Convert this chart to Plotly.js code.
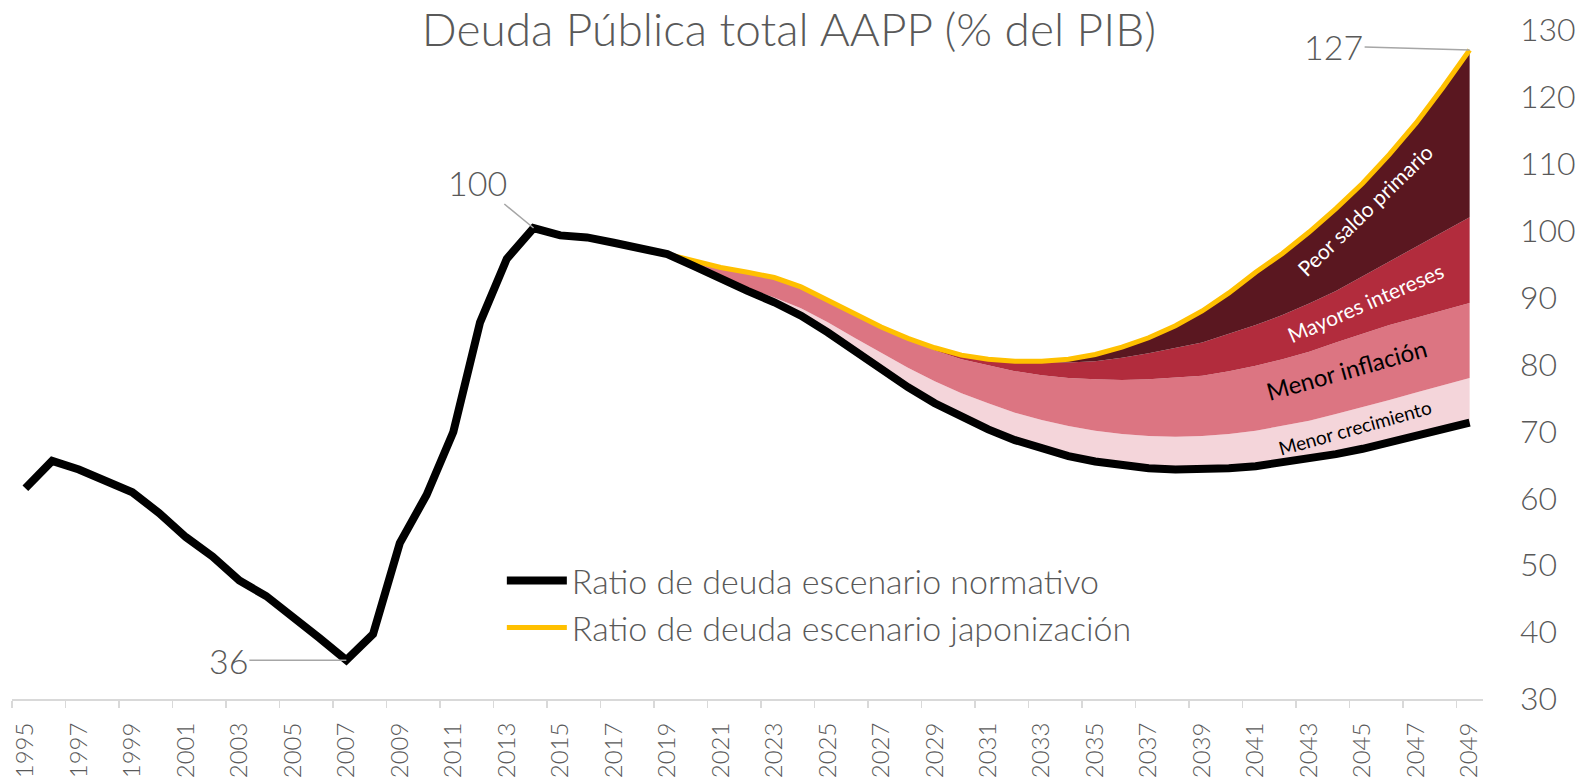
<!DOCTYPE html>
<html>
<head>
<meta charset="utf-8">
<script src="https://cdn.plot.ly/plotly-3.0.1.min.js"></script>
<style>html,body{margin:0;padding:0;background:#fff;}#chart{width:1578px;height:778px;}</style>
</head>
<body>
<div id="chart"></div>
<script>
// ---- Data ----
const histYears = [1995,1996,1997,1998,1999,2000,2001,2002,2003,2004,2005,2006,2007,2008,2009,2010,2011,2012,2013,2014,2015,2016,2017,2018];
const histDebt  = [61.5,65.6,64.3,62.5,60.9,57.8,54.2,51.3,47.7,45.4,42.4,39.1,35.8,39.7,53.3,60.5,69.9,86.3,95.8,100.4,99.3,99.0,98.2,97.2];

const projYears = [2019,2020,2021,2022,2023,2024,2025,2026,2027,2028,2029,2030,2031,2032,2033,2034,2035,2036,2037,2038,2039,2040,2041,2042,2043,2044,2045,2046,2047,2048,2049];
const normativo = [96.5,94.7,92.7,91.0,89.3,87.3,84.8,82.0,79.2,76.6,74.2,72.1,70.3,68.7,67.4,66.3,65.5,64.9,64.5,64.3,64.3,64.5,64.8,65.3,65.9,66.6,67.4,68.3,69.3,70.3,71.3];
const menorCrecimiento = [0,0,0.2,0.4,0.7,1.1,1.5,2.0,2.5,2.9,3.3,3.6,3.9,4.1,4.3,4.5,4.6,4.7,4.8,4.9,5.0,5.1,5.3,5.5,5.7,6.0,6.2,6.4,6.5,6.6,6.7];
const menorInflacion   = [0,0.8,1.6,2.4,3.0,3.2,3.3,3.5,3.9,4.4,4.6,5.1,5.7,6.2,6.7,7.2,7.7,8.1,8.5,8.8,9.0,9.4,9.7,10.0,10.3,10.7,11.0,11.2,11.2,11.2,11.2];
const mayoresIntereses = [0,0,0,0,0,0,0,0,0,0,0.4,0.6,0.9,1.5,2.0,2.3,2.7,3.3,3.9,4.5,5.0,5.6,6.1,6.6,7.2,7.7,8.6,9.5,10.6,11.7,12.8];
const peorSaldo        = [0,0,0,0,0,0,0,0,0,0,0,0,0,0,0.1,0.5,1.0,1.6,2.3,3.3,4.7,6.1,7.9,9.2,10.7,12.3,13.9,16.0,18.5,21.6,25.0];
const japonizacion = [96.5,95.5,94.5,93.8,93.0,91.6,89.6,87.5,85.6,83.9,82.5,81.4,80.8,80.5,80.5,80.8,81.5,82.6,84.0,85.8,88.0,90.7,93.8,96.6,99.8,103.3,107.1,111.4,116.1,121.4,127.0];

const xTickYears = [1995,1997,1999,2001,2003,2005,2007,2009,2011,2013,2015,2017,2019,2021,2023,2025,2027,2029,2031,2033,2035,2037,2039,2041,2043,2045,2047,2049];

// ---- Styles ----
const FONT = "Lato, 'Open Sans', 'DejaVu Sans', sans-serif";
const GREY = "#595959";
const C_CREC = "#F4D5DA", C_INFL = "#DC7582", C_INT = "#B22C3D", C_SALDO = "#5A1720";

const allYears = histYears.concat(projYears);
const allNorm  = histDebt.concat(normativo);

const traces = [
  {x: projYears, y: normativo, stackgroup: 'p', fill: 'none', mode: 'lines', line: {width: 0}, showlegend: false, hoverinfo: 'skip'},
  {x: projYears, y: menorCrecimiento, stackgroup: 'p', fill: 'tonexty', fillcolor: C_CREC, mode: 'lines', line: {width: 0}, showlegend: false, name: 'Menor crecimiento'},
  {x: projYears, y: menorInflacion, stackgroup: 'p', fill: 'tonexty', fillcolor: C_INFL, mode: 'lines', line: {width: 0}, showlegend: false, name: 'Menor inflación'},
  {x: projYears, y: mayoresIntereses, stackgroup: 'p', fill: 'tonexty', fillcolor: C_INT, mode: 'lines', line: {width: 0}, showlegend: false, name: 'Mayores intereses'},
  {x: projYears, y: peorSaldo, stackgroup: 'p', fill: 'tonexty', fillcolor: C_SALDO, mode: 'lines', line: {width: 0}, showlegend: false, name: 'Peor saldo primario'},
  {x: projYears, y: japonizacion, mode: 'lines', name: 'Ratio de deuda escenario japonización', line: {color: '#FFC000', width: 5}, legendrank: 2},
  {x: allYears, y: allNorm, mode: 'lines', name: 'Ratio de deuda escenario normativo', line: {color: '#000000', width: 8}, legendrank: 1}
];

const iHist14 = histYears.indexOf(2014), iHist07 = histYears.indexOf(2007);
const annFont = {family: FONT, size: 34, color: GREY, weight: 300};
const annotations = [
  {x: 2014, y: histDebt[iHist14], xref: 'x', yref: 'y', text: '100', showarrow: true, arrowhead: 0, arrowwidth: 1.5, arrowcolor: '#A6A6A6', ax: -56, ay: -46, font: annFont, standoff: 0},
  {x: 2007, y: histDebt[iHist07], xref: 'x', yref: 'y', text: '36', showarrow: true, arrowhead: 0, arrowwidth: 1.5, arrowcolor: '#A6A6A6', ax: -118, ay: 0, font: annFont},
  {x: 2049, y: japonizacion[japonizacion.length-1], xref: 'x', yref: 'y', text: '127', showarrow: true, arrowhead: 0, arrowwidth: 1.5, arrowcolor: '#A6A6A6', ax: -136, ay: -4, font: annFont},
  {x: 2045.1, y: 103.1, xref: 'x', yref: 'y', text: 'Peor saldo primario', showarrow: false, textangle: -44, font: {family: FONT, size: 21, color: '#FFFFFF'}},
  {x: 2045.1, y: 89.2, xref: 'x', yref: 'y', text: 'Mayores intereses', showarrow: false, textangle: -23.5, font: {family: FONT, size: 21, color: '#FFFFFF'}},
  {x: 2044.4, y: 79.2, xref: 'x', yref: 'y', text: 'Menor inflación', showarrow: false, textangle: -15.7, font: {family: FONT, size: 24, color: '#000000'}},
  {x: 2044.7, y: 70.6, xref: 'x', yref: 'y', text: 'Menor crecimiento', showarrow: false, textangle: -15.6, font: {family: FONT, size: 19, color: '#000000'}}
];

const layout = {
  width: 1578, height: 778,
  margin: {l: 12, r: 95, t: 30, b: 79},
  paper_bgcolor: '#FFFFFF', plot_bgcolor: '#FFFFFF',
  font: {family: FONT, color: GREY},
  title: {text: 'Deuda Pública total AAPP (% del PIB)', x: 0.5, xref: 'container', xanchor: 'center', y: 0.962, yref: 'container', yanchor: 'middle', font: {family: FONT, size: 46, color: GREY, weight: 300}},
  xaxis: {
    type: 'linear', range: [1994.5, 2049.5], fixedrange: true,
    tickmode: 'array', tickvals: xTickYears, ticktext: xTickYears.map(String),
    tickangle: -90, ticks: '', ticklabelstandoff: 12,
    tickfont: {family: FONT, size: 24, color: GREY, weight: 300},
    showline: true, linecolor: '#D9D9D9', linewidth: 2,
    showgrid: false, zeroline: false,
    minor: {tickmode: 'linear', tick0: 1994.5, dtick: 2, ticks: 'outside', ticklen: 7, tickcolor: '#D9D9D9', tickwidth: 1.5, showgrid: false}
  },
  yaxis: {
    side: 'right', range: [30, 130], dtick: 10, tick0: 30, fixedrange: true,
    ticks: '', ticklabelstandoff: 36,
    tickfont: {family: FONT, size: 32, color: GREY, weight: 300},
    showline: false, showgrid: false, zeroline: false
  },
  legend: {
    x: 0.333, y: 0.22, xanchor: 'left', yanchor: 'top', xref: 'paper', yref: 'paper',
    bgcolor: 'rgba(0,0,0,0)', borderwidth: 0, traceorder: 'normal',
    font: {family: FONT, size: 34, color: GREY, weight: 300},
    itemwidth: 60
  },
  annotations: annotations,
  showlegend: true
};

Plotly.newPlot('chart', traces, layout, {displayModeBar: false, staticPlot: true});
</script>
</body>
</html>
